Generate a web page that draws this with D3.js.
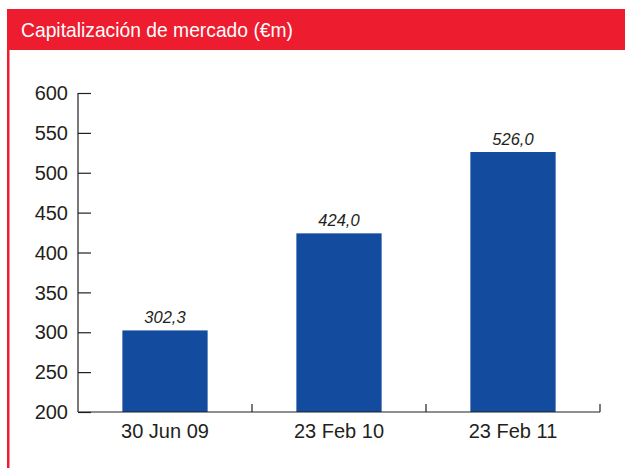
<!DOCTYPE html>
<html><head><meta charset="utf-8">
<script src="https://cdn.jsdelivr.net/npm/d3@7"></script>
<style>
html,body{margin:0;padding:0;background:#fff;}
svg{display:block;}
</style></head>
<body>
<script>
const title = "Capitalización de mercado (€m)";
const categories = ["30 Jun 09", "23 Feb 10", "23 Feb 11"];
const values = [302.3, 424.0, 526.0];
const valueLabels = ["302,3", "424,0", "526,0"];
const yTicks = [200, 250, 300, 350, 400, 450, 500, 550, 600];

(function () {
const W = 625, H = 468;
const font = "'Liberation Sans',Arial,sans-serif";
const ink = "#231f20";
const svg = d3.select("body").append("svg").attr("width", W).attr("height", H);

// header
svg.append("rect").attr("x", 7).attr("y", 9).attr("width", W - 7).attr("height", 41).attr("fill", "#ED1C2E");
svg.append("rect").attr("x", 7).attr("y", 50).attr("width", 2.5).attr("height", H - 50).attr("fill", "#ED1C2E");
svg.append("text").attr("transform", "translate(21,37.3) scale(0.95,1)").attr("fill", "#fff")
  .attr("font-family", font).attr("font-size", 20.3).text(title);

const pLeft = 78, pRight = 600, pTop = 93, pBottom = 412;
const x = d3.scaleBand().domain(categories).range([pLeft, pRight]).paddingInner(0).paddingOuter(0);
const y = d3.scaleLinear().domain([200, 600]).range([pBottom, pTop]);
const barFrac = 0.49;

// y axis
const yAxis = svg.append("g").attr("transform", `translate(${pLeft},0)`)
  .call(d3.axisRight(y).tickValues(yTicks).tickSize(13).tickFormat(""));
yAxis.select(".domain").remove();
yAxis.selectAll("line").attr("stroke", ink).attr("stroke-width", 1.2);
svg.append("line").attr("x1", pLeft).attr("x2", pLeft).attr("y1", pTop).attr("y2", pBottom)
  .attr("stroke", ink).attr("stroke-width", 1.2);
svg.selectAll(".ylab").data(yTicks).enter().append("text")
  .attr("x", pLeft - 10).attr("y", d => y(d)).attr("dy", "0.36em")
  .attr("text-anchor", "end").attr("fill", ink)
  .attr("font-family", font).attr("font-size", 20).text(d => d);

// bars
svg.selectAll(".bar").data(values).enter().append("rect")
  .attr("x", (d, i) => x(categories[i]) + x.bandwidth() * (1 - barFrac) / 2)
  .attr("width", x.bandwidth() * barFrac)
  .attr("y", d => y(d)).attr("height", d => y(200) - y(d))
  .attr("fill", "#134B9F");

svg.selectAll(".vlab").data(values).enter().append("text")
  .attr("x", (d, i) => x(categories[i]) + x.bandwidth() / 2)
  .attr("y", d => y(d) - 7)
  .attr("text-anchor", "middle").attr("fill", ink).attr("font-style", "italic")
  .attr("font-family", font).attr("font-size", 16.5).text((d, i) => valueLabels[i]);

// x axis
svg.append("line").attr("x1", pLeft).attr("x2", pRight).attr("y1", pBottom).attr("y2", pBottom)
  .attr("stroke", ink).attr("stroke-width", 1.2);
const boundaries = categories.map(c => x(c) + x.bandwidth());
svg.selectAll(".xt").data(boundaries).enter().append("line")
  .attr("x1", d => d).attr("x2", d => d).attr("y1", pBottom).attr("y2", pBottom - 8)
  .attr("stroke", ink).attr("stroke-width", 1.2);
svg.selectAll(".xlab").data(categories).enter().append("text")
  .attr("x", d => x(d) + x.bandwidth() / 2).attr("y", 438)
  .attr("text-anchor", "middle").attr("fill", ink)
  .attr("font-family", font).attr("font-size", 20).text(d => d);
})();
</script>
</body></html>
